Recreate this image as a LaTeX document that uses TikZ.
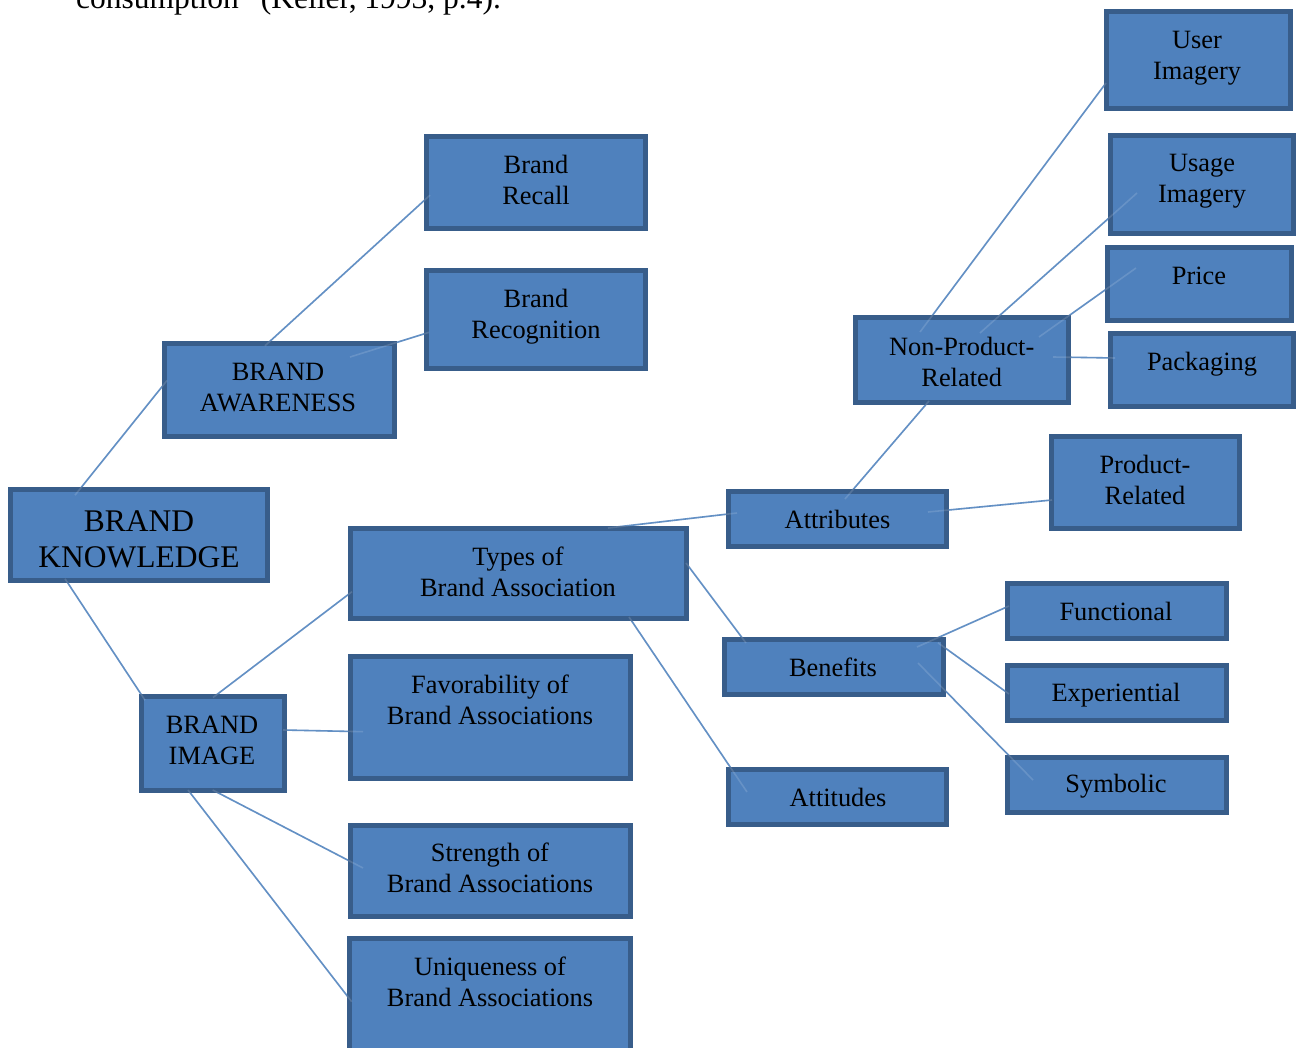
\documentclass[tikz,border=0pt]{standalone}
\usepackage{fontspec}
\setmainfont{Liberation Serif}
\pgfdeclarelayer{bottom}
\pgfdeclarelayer{background}
\pgfsetlayers{bottom,background,main}
\definecolor{boxfill}{HTML}{4F81BD}
\definecolor{boxline}{HTML}{385D8A}
\definecolor{connline}{HTML}{4A7EBB}
\newcommand\nfont{\fontsize{26.4}{31}\selectfont}
\newcommand\bigfnt{\fontsize{31.5}{36}\selectfont}
\newcommand\bx[5]{\node[box,minimum width=#4pt,minimum height=#5pt] (#1) at (#2,#3) {};}
\newcommand\cn[4]{%
  \begin{pgfonlayer}{background}\draw[conn] ([shift={#2}]#1.center) -- ([shift={#4}]#3.center);\end{pgfonlayer}%
  \draw[ghost] ([shift={#2}]#1.center) -- ([shift={#4}]#3.center);}
\begin{document}
\begin{tikzpicture}[x=1pt,y=-1pt,
  box/.style={draw=boxline, fill=boxfill, line width=5pt, rectangle, inner sep=0pt, outer sep=0pt},
  txt/.style={anchor=north, inner sep=0pt, align=center, font=\nfont, text=black},
  conn/.style={draw=connline, line width=1.6pt},
  ghost/.style={draw=white, opacity=0.14, line width=1.6pt}]
\begin{pgfonlayer}{bottom}
\fill[white] (0,0) rectangle (1296,1048);
\end{pgfonlayer}
\useasboundingbox (0,0) rectangle (1296,1048);

% cut-off text line at the top
\node[anchor=base west, inner sep=0pt, font=\fontsize{31.5}{36}\selectfont] (quote) at (76,9) {consumption” (Keller, 1993, p.4).};

% boxes
\bx{recall}{536}{182.5}{219}{92}
\bx{recog}{536}{319.75}{219}{98.5}
\bx{aware}{279.2}{390}{230}{93.6}
\bx{know}{139.2}{535}{256.7}{91.6}
\bx{types}{518.5}{573.4}{336}{89.7}
\bx{fav}{490.5}{717.7}{279.4}{121.7}
\bx{image}{213}{743.5}{142.4}{93.4}
\bx{strength}{490.5}{870.9}{279.4}{91.3}
\bx{unique}{490}{998.75}{280.4}{121.5}
\bx{attr}{837.7}{519.3}{218.3}{55}
\bx{benef}{833.9}{667.3}{218.7}{55}
\bx{attit}{837.7}{797.3}{218.3}{55}
\bx{npr}{962.2}{360}{212.7}{85}
\bx{prod}{1145.5}{482.5}{187.4}{92}
\bx{user}{1198.7}{60.2}{184.3}{96.7}
\bx{usage}{1202}{184.7}{183}{97.7}
\bx{price}{1199.5}{284}{184}{73}
\bx{pack}{1202}{370}{182.7}{73}
\bx{func}{1117}{610.7}{219}{55}
\bx{exper}{1117}{693.3}{219}{55}
\bx{symb}{1117}{785}{219}{55}

% texts
\node[txt] (recall-t) at (536,151.6) {\strut Brand\\\strut Recall};
\node[txt] (recog-t) at (536,285.3) {\strut Brand\\\strut Recognition};
\node[txt] (aware-t) at (278,358.3) {\strut BRAND\\\strut AWARENESS};
\node[txt, font=\bigfnt] (know-t) at (139,505.8) {\strut BRAND\\\strut KNOWLEDGE};
\node[txt] (types-t) at (518,543.3) {\strut Types of\\\strut Brand Association};
\node[txt] (fav-t) at (490,671.3) {\strut Favorability of\\\strut Brand Associations};
\node[txt] (image-t) at (212,711.6) {\strut BRAND\\\strut IMAGE};
\node[txt] (strength-t) at (490,839.3) {\strut Strength of\\\strut Brand Associations};
\node[txt] (unique-t) at (490,953.3) {\strut Uniqueness of\\\strut Brand Associations};
\node[txt] (attr-t) at (837.5,506.6) {\strut Attributes};
\node[txt] (benef-t) at (833,654.3) {\strut Benefits};
\node[txt] (attit-t) at (838,784.3) {\strut Attitudes};
\node[txt] (func-t) at (1116,598.3) {\strut Functional};
\node[txt] (exper-t) at (1116,680) {\strut Experiential};
\node[txt] (symb-t) at (1116,771) {\strut Symbolic};
\node[txt] (npr-t) at (961.7,333.3) {\strut Non-Product-\\\strut Related};
\node[txt] (pack-t) at (1202,348.3) {\strut Packaging};
\node[txt] (price-t) at (1199,262.3) {\strut Price};
\node[txt] (user-t) at (1197,26.6) {\strut User\\\strut Imagery};
\node[txt] (usage-t) at (1202,150) {\strut Usage\\\strut Imagery};
\node[txt] (prod-t) at (1145,451.6) {\strut Product-\\\strut Related};

% connectors
\cn{know}{(-64.2,-39.8)}{aware}{(-112.2,-9.5)}
\cn{know}{(-74.2,43.7)}{image}{(-68,-43.3)}
\cn{aware}{(-14.2,-44.2)}{recall}{(-106,12.7)}
\cn{aware}{(70.8,-33)}{recog}{(-107,12.6)}
\cn{image}{(0,-46)}{types}{(-166.5,18.3)}
\cn{image}{(70,-13.5)}{fav}{(-127.5,14)}
\cn{image}{(-0.3,46.5)}{strength}{(-127.5,-2.9)}
\cn{image}{(-25,46.5)}{unique}{(-138.3,2.95)}
\cn{types}{(89.5,-45.4)}{attr}{(-100.7,-6.3)}
\cn{types}{(167.5,-10.4)}{benef}{(-87.9,-24.3)}
\cn{types}{(110.5,43.6)}{attit}{(-90.7,-5.3)}
\cn{attr}{(7.3,-20.3)}{npr}{(-33.2,41)}
\cn{attr}{(90.3,-7.3)}{prod}{(-93.5,17.5)}
\cn{npr}{(-42.2,-28)}{user}{(-92.7,22.8)}
\cn{npr}{(17.8,-27)}{usage}{(-65,8.3)}
\cn{npr}{(76.8,-23)}{price}{(-63.5,-16)}
\cn{npr}{(90.8,-3)}{pack}{(-87,-12)}
\cn{benef}{(83.1,-20.3)}{func}{(-108,-4.7)}
\cn{benef}{(104.1,-24.5)}{exper}{(-108,0.7)}
\cn{benef}{(84.1,-4.3)}{symb}{(-84,-5)}
\end{tikzpicture}
\end{document}
